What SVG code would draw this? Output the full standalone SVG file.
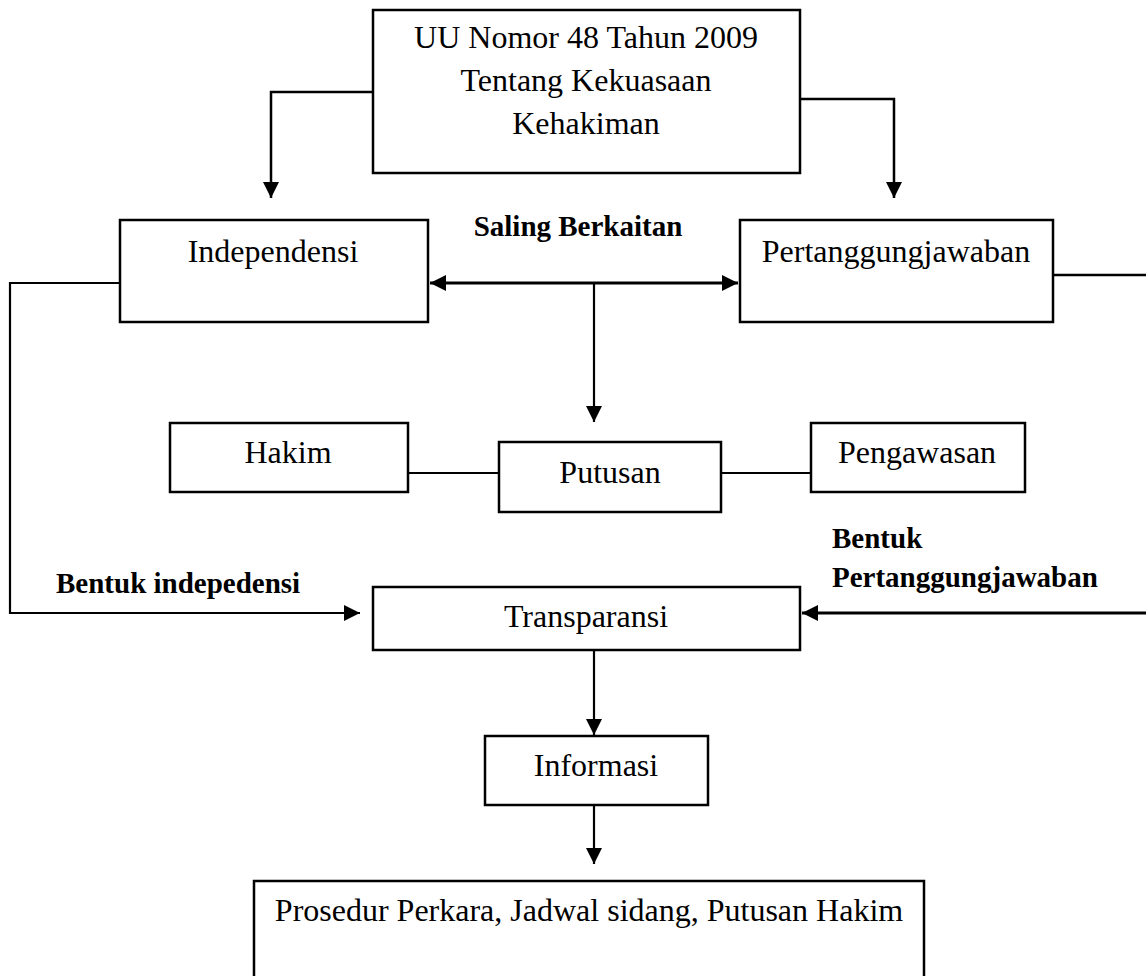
<svg xmlns="http://www.w3.org/2000/svg" width="1146" height="976" viewBox="0 0 1146 976">
<style>
.box{fill:#fff;stroke:#000;stroke-width:2.5}
.ln{fill:none;stroke:#000;stroke-width:2.2}
.t{font-family:"Liberation Serif","Times New Roman",serif;font-size:32px;fill:#000}
.b{font-family:"Liberation Serif","Times New Roman",serif;font-size:29px;font-weight:bold;fill:#000}
.c{text-anchor:middle}
</style>
<defs>
<marker id="ah" markerUnits="userSpaceOnUse" markerWidth="18" markerHeight="16" refX="16" refY="8" orient="auto-start-reverse">
<path d="M0,0 L16,8 L0,16 Z" fill="#000"/>
</marker>
</defs>
<rect width="1146" height="976" fill="#fff"/>
<g id="connectors">
<path class="ln" d="M373,92 H271 V198" marker-end="url(#ah)" style="stroke-width:2.5"/>
<path class="ln" d="M800,99 H894 V198" marker-end="url(#ah)" style="stroke-width:2.5"/>
<path class="ln" d="M430,283 H738" marker-start="url(#ah)" marker-end="url(#ah)" style="stroke-width:3"/>
<path class="ln" d="M594,283 V422" marker-end="url(#ah)"/>
<path class="ln" d="M408,473 H499"/>
<path class="ln" d="M721,473 H811"/>
<path class="ln" d="M120,283 H10 V613 H360" marker-end="url(#ah)"/>
<path class="ln" d="M1053,275 H1146" style="stroke-width:2.5"/>
<path class="ln" d="M1146,613 H802" marker-end="url(#ah)" style="stroke-width:3"/>
<path class="ln" d="M594,650 V735" marker-end="url(#ah)"/>
<path class="ln" d="M594,805 V864" marker-end="url(#ah)"/>
</g>
<g id="uu">
<rect class="box" x="373" y="10" width="427" height="163"/>
<text class="t c" x="586" y="48">UU Nomor 48 Tahun 2009</text>
<text class="t c" x="586" y="91">Tentang Kekuasaan</text>
<text class="t c" x="586" y="134">Kehakiman</text>
</g>
<g id="independensi">
<rect class="box" x="120" y="220" width="308" height="102"/>
<text class="t c" x="273" y="262">Independensi</text>
</g>
<g id="pertanggungjawaban">
<rect class="box" x="740" y="220" width="313" height="102"/>
<text class="t c" x="896" y="262">Pertanggungjawaban</text>
</g>
<g id="label-saling">
<text class="b c" x="578" y="236">Saling Berkaitan</text>
</g>
<g id="hakim">
<rect class="box" x="170" y="423" width="238" height="69"/>
<text class="t c" x="288" y="463">Hakim</text>
</g>
<g id="putusan">
<rect class="box" x="499" y="442" width="222" height="70"/>
<text class="t c" x="610" y="483">Putusan</text>
</g>
<g id="pengawasan">
<rect class="box" x="811" y="423" width="214" height="69"/>
<text class="t c" x="917" y="463">Pengawasan</text>
</g>
<g id="label-bentuk-ind">
<text class="b" x="56" y="593">Bentuk indepedensi</text>
</g>
<g id="label-bentuk-pert">
<text class="b" x="832" y="548">Bentuk</text>
<text class="b" x="832" y="587">Pertanggungjawaban</text>
</g>
<g id="transparansi">
<rect class="box" x="373" y="587" width="427" height="63"/>
<text class="t c" x="586" y="627">Transparansi</text>
</g>
<g id="informasi">
<rect class="box" x="485" y="736" width="223" height="69"/>
<text class="t c" x="596" y="776">Informasi</text>
</g>
<g id="prosedur">
<rect class="box" x="254" y="881" width="670" height="110"/>
<text class="t c" x="589" y="921">Prosedur Perkara, Jadwal sidang, Putusan Hakim</text>
</g>
</svg>
